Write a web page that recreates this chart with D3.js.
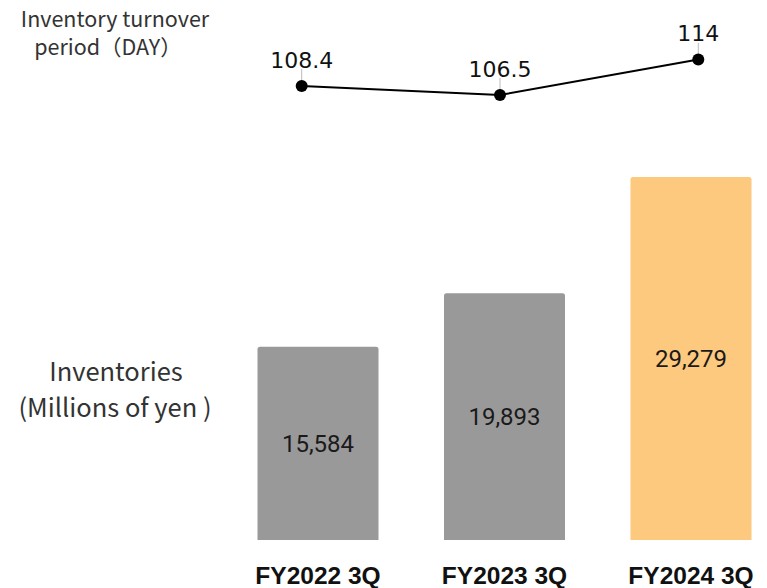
<!DOCTYPE html>
<html>
<head>
<meta charset="utf-8">
<script src="https://cdn.jsdelivr.net/npm/d3@7"></script>
<style>
  body { margin: 0; background: #fff; }
  svg { display: block; }
</style>
</head>
<body>
<div id="chart"></div>
<script>
// chart data
var categories = ["FY2022 3Q", "FY2023 3Q", "FY2024 3Q"];
var inventories = [15584, 19893, 29279];     // millions of yen
var turnoverDays = [108.4, 106.5, 114];      // inventory turnover period
var barColors = ["#999999", "#999999", "#fdc97e"];

var svgWidth = 767, svgHeight = 588;
var svg = d3.select("#chart").append("svg")
    .attr("width", svgWidth).attr("height", svgHeight);

// bars
var xBar = d3.scaleBand()
    .domain(categories)
    .range([257.5, 751.5])
    .paddingInner(0.3512)
    .paddingOuter(0);

var yBar = d3.scaleLinear()
    .domain([0, 29279])
    .range([540, 177]);

// rounded top corners only
function barPath(x, y, w, h, r) {
    return "M" + x + "," + (y + h) +
        "V" + (y + r) +
        "Q" + x + "," + y + " " + (x + r) + "," + y +
        "H" + (x + w - r) +
        "Q" + (x + w) + "," + y + " " + (x + w) + "," + (y + r) +
        "V" + (y + h) + "Z";
}

var bars = svg.append("g").selectAll("g")
    .data(categories).enter().append("g");

bars.append("path")
    .attr("d", (d, i) => barPath(xBar(d), yBar(inventories[i]), xBar.bandwidth(),
        yBar(0) - yBar(inventories[i]), 2.5))
    .attr("fill", (d, i) => barColors[i]);

bars.append("text")
    .attr("x", d => xBar(d) + xBar.bandwidth() / 2)
    .attr("y", (d, i) => (yBar(inventories[i]) + yBar(0)) / 2)
    .attr("dy", "0.36em")
    .attr("text-anchor", "middle")
    .attr("font-family", "Roboto, 'Noto Sans', sans-serif")
    .attr("font-size", 24)
    .attr("fill", "#1a1a1a")
    .text((d, i) => d3.format(",")(inventories[i]));

// category labels
svg.append("g").selectAll("text")
    .data(categories).enter().append("text")
    .attr("x", d => xBar(d) + xBar.bandwidth() / 2)
    .attr("y", 584)
    .attr("text-anchor", "middle")
    .attr("font-family", "'Liberation Sans', Arial, sans-serif")
    .attr("font-weight", "bold")
    .attr("font-size", 24.5)
    .attr("fill", "#111")
    .text(d => d);

// turnover line
var xLine = d3.scalePoint()
    .domain(categories)
    .range([301.7, 698.3]);

var yLine = d3.scaleLinear()
    .domain([100, 120])
    .range([125.8, 31]);

var line = d3.line()
    .x((d, i) => xLine(categories[i]))
    .y(d => yLine(d));

svg.append("path")
    .datum(turnoverDays)
    .attr("d", line)
    .attr("fill", "none")
    .attr("stroke", "#000")
    .attr("stroke-width", 2);

var pts = svg.append("g").selectAll("g")
    .data(turnoverDays).enter().append("g");

// leader lines from label to point
pts.append("line")
    .attr("x1", (d, i) => xLine(categories[i]))
    .attr("x2", (d, i) => xLine(categories[i]))
    .attr("y1", d => yLine(d) - 17)
    .attr("y2", d => yLine(d) - 5)
    .attr("stroke", "#bbb")
    .attr("stroke-width", 1);

pts.append("circle")
    .attr("cx", (d, i) => xLine(categories[i]))
    .attr("cy", d => yLine(d))
    .attr("r", 6)
    .attr("fill", "#000");

pts.append("text")
    .attr("x", (d, i) => xLine(categories[i]))
    .attr("y", d => yLine(d) - 18)
    .attr("text-anchor", "middle")
    .attr("font-family", "'DejaVu Sans', sans-serif")
    .attr("font-size", 22)
    .attr("fill", "#111")
    .attr("stroke", "#fff")
    .attr("stroke-width", 3)
    .attr("paint-order", "stroke")
    .text(d => d);

// axis titles
var title1 = svg.append("text")
    .attr("text-anchor", "middle")
    .attr("font-family", "'Noto Sans CJK JP', 'Noto Sans', sans-serif")
    .attr("font-size", 21.5)
    .attr("fill", "#333");
title1.append("tspan").attr("x", 115).attr("y", 27).text("Inventory turnover");
title1.append("tspan").attr("x", 108).attr("y", 55).text("period（DAY）");

var title2 = svg.append("text")
    .attr("text-anchor", "middle")
    .attr("font-family", "'Noto Sans CJK JP', 'Noto Sans', sans-serif")
    .attr("font-size", 25.5)
    .attr("fill", "#333");
title2.append("tspan").attr("x", 116).attr("y", 381).text("Inventories");
title2.append("tspan").attr("x", 115).attr("y", 417).text("(Millions of yen )");
</script>
</body>
</html>
